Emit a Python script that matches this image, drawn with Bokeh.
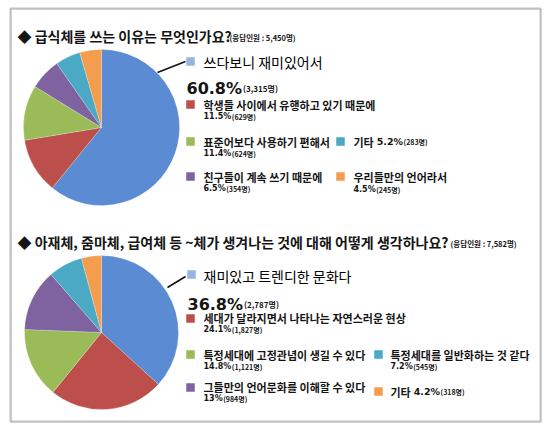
import math
import numpy as np
from bokeh.plotting import figure
from bokeh.models import Range1d, BoxAnnotation, Label, ColumnDataSource
from bokeh.embed import file_html
from bokeh.resources import INLINE

# ---------------- data ----------------
q1_title = "◆ 급식체를 쓰는 이유는 무엇인가요?"
q1_note = "(응답인원 : 5,450명)"
q1_labels = ["쓰다보니 재미있어서", "학생들 사이에서 유행하고 있기 때문에", "표준어보다 사용하기 편해서",
             "친구들이 계속 쓰기 때문에", "기타", "우리들만의 언어라서"]
q1_pct = [60.8, 11.5, 11.4, 6.5, 5.2, 4.5]
q1_count = [3315, 629, 624, 354, 283, 245]

q2_title = "◆ 아재체, 줌마체, 급여체 등 ~체가 생겨나는 것에 대해 어떻게 생각하나요?"
q2_note = "(응답인원 : 7,582명)"
q2_labels = ["재미있고 트렌디한 문화다", "세대가 달라지면서 나타나는 자연스러운 현상",
             "특정세대에 고정관념이 생길 수 있다", "그들만의 언어문화를 이해할 수 있다",
             "특정세대를 일반화하는 것 같다", "기타"]
q2_pct = [36.8, 24.1, 14.8, 13, 7.2, 4.2]
q2_count = [2787, 1827, 1121, 984, 545, 318]

# ---------------- style ----------------
SLICE_COLORS = ["#5B8CD3", "#BC4F4B", "#9BBB59", "#7E63A0", "#4AA9C4", "#F59D4F"]
KEY_COLORS = ["#95B6E3", "#BC4F4B", "#9BBB59", "#7E63A0", "#4AA9C4", "#F59D4F"]
FONT_KR = "Noto Sans CJK KR"
FONT_NUM = "DejaVu Sans"
TXT = "#151515"

W, H = 546, 428


def PY(y):
    return H - y


p = figure(width=W, height=H, output_backend="svg", toolbar_location=None,
           x_range=Range1d(0, W), y_range=Range1d(0, H), min_border=0)
p.axis.visible = False
p.grid.visible = False
p.outline_line_color = None
p.background_fill_color = "white"
p.border_fill_color = "white"

# frame
p.add_layout(BoxAnnotation(left=11, right=541, top=PY(9), bottom=PY(422),
                           fill_alpha=0, line_color="#c4c4c4", line_width=1))
p.add_layout(BoxAnnotation(left=10, right=540, top=PY(8), bottom=PY(421),
                           fill_alpha=0, line_color="#333333", line_width=2))


def num_w(s, size):
    w = 0
    for ch in s:
        if ch.isdigit():
            w += 0.696
        elif ch in ".,":
            w += 0.38
        elif ch == "%":
            w += 1.002
        else:
            w += 0.6
    return w * size


def kr_w(s, size):
    w = 0
    for ch in s:
        if ord(ch) >= 0x1100:
            w += 0.92
        elif ch == " ":
            w += 0.224
        else:
            w += 0.5
    return w * size


def txt(x, y, s, size, font=FONT_KR, bold=True, baseline="middle", color=TXT):
    p.add_layout(Label(x=x, y=PY(y), text=s, text_font=font,
                       text_font_size=f"{size}px", text_font_style="bold" if bold else "normal",
                       text_color=color, text_baseline=baseline, text_align="left"))


def fmt_pct(v):
    return f"{v:g}%"


def fmt_cnt(c):
    return f"({c:,}명)"


def draw_chart(title, note, note_x, labels, pct, counts, cx, cy, r, ty, slots, leader):
    # title
    txt(17, ty, title, 14)
    txt(note_x, ty + 1.5, note, 7.5)
    # pie
    vals = np.array(pct, dtype=float)
    frac = vals / vals.sum()
    cum = np.concatenate([[0], np.cumsum(frac)])
    start = math.pi / 2 - 2 * math.pi * cum[:-1]
    end = math.pi / 2 - 2 * math.pi * cum[1:]
    src = ColumnDataSource(dict(x=[cx] * len(vals), y=[PY(cy)] * len(vals),
                                s=list(start), e=list(end), c=SLICE_COLORS[:len(vals)]))
    p.wedge(x="x", y="y", radius=r, start_angle="s", end_angle="e", direction="clock",
            fill_color="c", line_color="white", line_alpha=0.35, line_width=0.6, source=src)
    # leader line
    (x0, y0), (x1, y1) = leader
    p.line([x0, x1], [PY(y0), PY(y1)], line_color="#111111", line_width=1.5)
    # legend
    for i, (kind, sx, sy, tx, ly, py_) in enumerate(slots):
        p.rect(x=[sx], y=[PY(sy)], width=8.5, height=8.5, fill_color=KEY_COLORS[i], line_color=None)
        ps = fmt_pct(pct[i])
        cs = fmt_cnt(counts[i])
        if kind == "big":
            txt(tx, ly, labels[i], 14, bold=False, color="#000000")
            txt(sx - 4, py_, ps, 16, font=FONT_NUM, baseline="alphabetic")
            txt(sx - 4 + num_w(ps, 16) + 1, py_, cs, 8, baseline="alphabetic")
        elif kind == "two":
            txt(tx, ly, labels[i], 11)
            txt(tx, py_, ps, 8, font=FONT_NUM)
            txt(tx + num_w(ps, 8) + 0.5, py_ + 0.5, cs, 7)
        else:  # inline
            head = labels[i] + " "
            txt(tx, ly, head, 11)
            x2 = tx + kr_w(head, 11) + 0.5
            txt(x2, ly, ps, 9.5, font=FONT_NUM)
            txt(x2 + num_w(ps, 9.5) + 0.5, ly + 0.5, cs, 7)


slots1 = [
    ("big", 190, 61, 203, 61, 88),
    ("two", 190, 104, 203, 104, 116),
    ("two", 190, 141, 203, 141, 153),
    ("two", 190, 176, 203, 176, 188),
    ("inline", 340, 141, 353, 141, None),
    ("two", 340, 176, 353, 176, 189),
]
slots2 = [
    ("big", 191, 274, 203, 275, 304),
    ("two", 190, 318, 203, 317, 329),
    ("two", 190, 354, 203, 354, 366),
    ("two", 190, 387, 203, 386, 398),
    ("two", 378, 354, 390, 354, 366),
    ("inline", 378, 391, 390, 391, None),
]

draw_chart(q1_title, q1_note, 229, q1_labels, q1_pct, q1_count, 101, 127, 78, 35.5, slots1,
           ((157, 72), (185, 61)))
draw_chart(q2_title, q2_note, 450, q2_labels, q2_pct, q2_count, 101, 332, 77, 241, slots2,
           ((167, 287), (185, 276)))

open("out.html", "w").write(file_html(p, INLINE))
